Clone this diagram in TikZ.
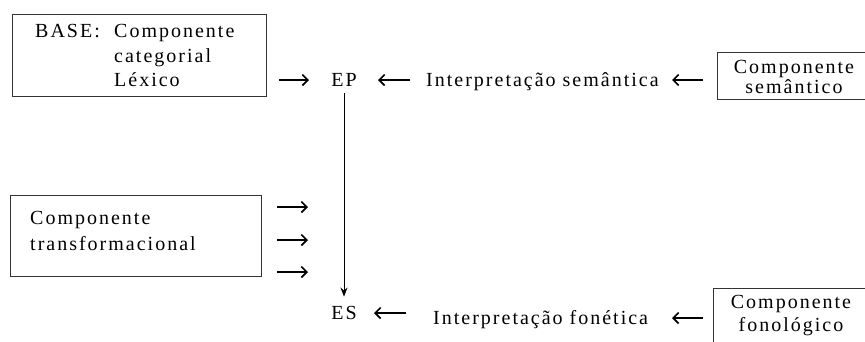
\documentclass[tikz,border=0pt]{standalone}
\usepackage{fontspec}
\setmainfont{Liberation Serif}[LetterSpace=10]
\usetikzlibrary{arrows.meta}
\begin{document}
\begin{tikzpicture}[x=1pt,y=-1pt,
  font=\fontsize{20}{24}\selectfont,
  box/.style={draw=black!80, line width=0.8pt, inner sep=0pt, anchor=north west},
  txt/.style={inner sep=0pt, anchor=base west},
  ctxt/.style={inner sep=0pt, anchor=base},
  arr/.style={-{Straight Barb[length=5.5pt,width=11pt]}, line width=1.6pt},
  varr/.style={-{Stealth[length=9pt,width=7pt]}, line width=0.9pt},
]
\clip (0,0) rectangle (865,341);
\fill[white] (0,0) rectangle (865,341);

% base box
\node[box, minimum width=254pt, minimum height=82pt] (basebox) at (12,14) {};
\node[txt] (baselbl) at (35,37) {BASE:};
\node[txt] (cat1) at (114,37) {Componente};
\node[txt] (cat2) at (114,62) {categorial};
\node[txt] (cat3) at (114,86) {Léxico};

% EP row
\node[ctxt] (ep) at (344,86) {EP};
\coordinate (a1s) at (279,80);
\coordinate (a1e) at (309,80);
\draw[arr] (a1s) -- (a1e);
\coordinate (a2s) at (410,80);
\coordinate (a2e) at (378,80);
\draw[arr] (a2s) -- (a2e);
\node[txt] (isem) at (426,86) {Interpretação semântica};
\coordinate (a3s) at (703,80);
\coordinate (a3e) at (672,80);
\draw[arr] (a3s) -- (a3e);
\node[box, minimum width=160pt, minimum height=47pt] (sembox) at (717,52) {};
\node[ctxt] (sem1) at (794,73) {Componente};
\node[ctxt] (sem2) at (794,93) {semântico};

% transformational box
\node[box, minimum width=251pt, minimum height=81pt] (trbox) at (10,195) {};
\node[txt] (tr1) at (30,224) {Componente};
\node[txt] (tr2) at (30,250) {transformacional};
\coordinate (t1s) at (277,207);
\coordinate (t1e) at (308,207);
\coordinate (t2s) at (277,240);
\coordinate (t2e) at (308,240);
\coordinate (t3s) at (277,272);
\coordinate (t3e) at (308,272);
\draw[arr] (t1s) -- (t1e);
\draw[arr] (t2s) -- (t2e);
\draw[arr] (t3s) -- (t3e);

% ES row
\node[ctxt] (es) at (344,319) {ES};
\draw[varr, shorten <=7pt, shorten >=9pt] (ep.south) -- (es.north);
\coordinate (b1s) at (406,313);
\coordinate (b1e) at (374,313);
\draw[arr] (b1s) -- (b1e);
\node[txt] (ifon) at (433,324) {Interpretação fonética};
\coordinate (b2s) at (703,318);
\coordinate (b2e) at (672,318);
\draw[arr] (b2s) -- (b2e);
\node[box, minimum width=160pt, minimum height=70pt] (fonbox) at (713,288) {};
\node[ctxt] (fon1) at (791,308) {Componente};
\node[ctxt] (fon2) at (791,331) {fonológico};
\end{tikzpicture}
\end{document}
